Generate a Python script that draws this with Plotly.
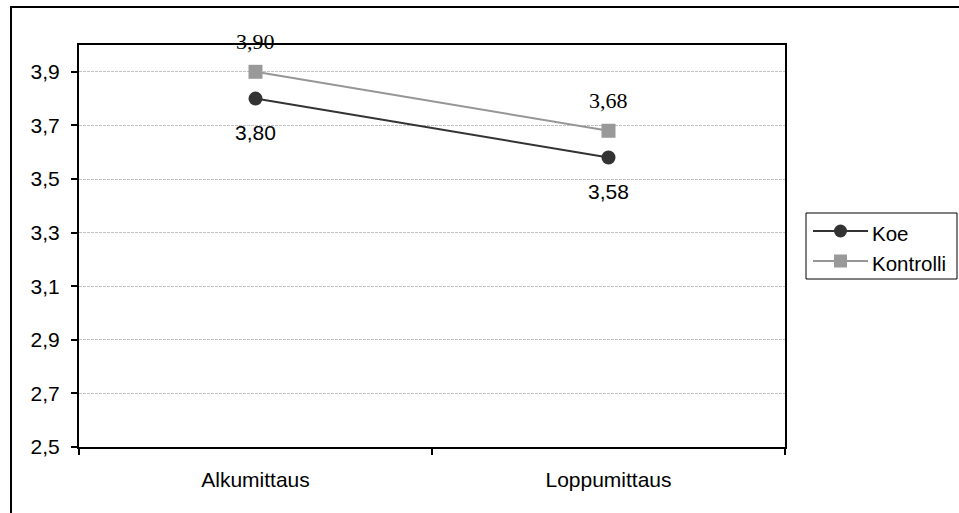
import plotly.graph_objects as go

# Measurement points and group means
categories = ["Alkumittaus", "Loppumittaus"]
series_names = ["Koe", "Kontrolli"]
koe = [3.80, 3.58]
kontrolli = [3.90, 3.68]

# Y axis ticks (Finnish decimal comma)
y_ticks = [2.5, 2.7, 2.9, 3.1, 3.3, 3.5, 3.7, 3.9]
y_ticktext = [f"{v:.1f}".replace(".", ",") for v in y_ticks]

ARIAL = "Liberation Sans, Arial, sans-serif"
TIMES = "Liberation Serif"
DARK, GREY_LINE, GREY_MARK = "#333333", "#969696", "#999999"

W, H = 959, 513
ML, MR, MT, MB = 79, 174, 45, 66
PW, PH = W - ML - MR, H - MT - MB


def px(x):
    """Pixel column -> paper x."""
    return (x - ML) / PW


def py(y):
    """Pixel row -> paper y."""
    return (H - MB - y) / PH


def fmt(v):
    return f"{v:.2f}".replace(".", ",")


fig = go.Figure()
fig.add_trace(go.Scatter(
    x=categories, y=koe, name=series_names[0], mode="lines+markers",
    line=dict(color=DARK, width=2),
    marker=dict(symbol="circle", size=14, color=DARK),
    showlegend=False,
))
fig.add_trace(go.Scatter(
    x=categories, y=kontrolli, name=series_names[1], mode="lines+markers",
    line=dict(color=GREY_LINE, width=2),
    marker=dict(symbol="square", size=14, color=GREY_MARK),
    showlegend=False,
))

annotations = []
for c, v in zip(categories, koe):
    annotations.append(dict(x=c, y=v, xref="x", yref="y", text=fmt(v),
                            showarrow=False, yshift=-34,
                            font=dict(family=ARIAL, size=21, color="black")))
for c, v in zip(categories, kontrolli):
    annotations.append(dict(x=c, y=v, xref="x", yref="y", text=fmt(v),
                            showarrow=False, yshift=30,
                            font=dict(family=TIMES, size=22, color="black")))

# Outer chart frame (runs past the right and bottom edges)
shapes = [dict(
    type="rect", xref="paper", yref="paper",
    x0=px(11), x1=px(W + 20), y0=py(H + 20), y1=py(7),
    line=dict(color="black", width=2), fillcolor="rgba(0,0,0,0)", layer="below",
)]

# Legend box with line-and-marker keys
shapes.append(dict(type="rect", xref="paper", yref="paper",
                   x0=px(806), x1=px(957), y0=py(279), y1=py(213),
                   line=dict(color="black", width=1), fillcolor="white"))
legend_rows = [
    (series_names[0], 231, DARK, DARK, "circle"),
    (series_names[1], 261, GREY_LINE, GREY_MARK, "rect"),
]
for name, row, lcol, mcol, sym in legend_rows:
    shapes.append(dict(type="line", xref="paper", yref="paper",
                       x0=px(813), x1=px(868), y0=py(row), y1=py(row),
                       line=dict(color=lcol, width=2)))
    shapes.append(dict(type=sym, xref="paper", yref="paper",
                       xsizemode="pixel", ysizemode="pixel",
                       xanchor=px(840.5), yanchor=py(row),
                       x0=-6.5, x1=6.5, y0=-6.5, y1=6.5,
                       line=dict(width=0), fillcolor=mcol))
    annotations.append(dict(x=px(870), y=py(row + 2), xref="paper", yref="paper",
                            text=name, showarrow=False, xanchor="left", yanchor="middle",
                            font=dict(family=ARIAL, size=20.5, color="black")))

fig.update_layout(
    width=W, height=H,
    margin=dict(l=ML, r=MR, t=MT, b=MB),
    paper_bgcolor="white", plot_bgcolor="white",
    font=dict(family=ARIAL, size=21, color="black"),
    annotations=annotations, shapes=shapes,
    showlegend=False,
)

fig.update_xaxes(
    type="category", tickson="boundaries", range=[-0.5, 1.5],
    showline=True, linecolor="black", linewidth=2, mirror=True,
    ticks="outside", ticklen=6, tickwidth=1.5, tickcolor="black",
    showgrid=False, zeroline=False, ticklabelstandoff=13,
    tickfont=dict(family=ARIAL, size=21, color="black"),
)
fig.update_yaxes(
    range=[2.5, 4.0], tickvals=y_ticks, ticktext=y_ticktext,
    showline=True, linecolor="black", linewidth=2, mirror=True,
    ticks="outside", ticklen=6, tickwidth=1.5, tickcolor="black",
    showgrid=True, gridcolor="#c0c0c0", gridwidth=1, griddash="3px,1px",
    zeroline=False, ticklabelstandoff=7,
    tickfont=dict(family=ARIAL, size=21, color="black"),
)

fig.write_html("out.html")
